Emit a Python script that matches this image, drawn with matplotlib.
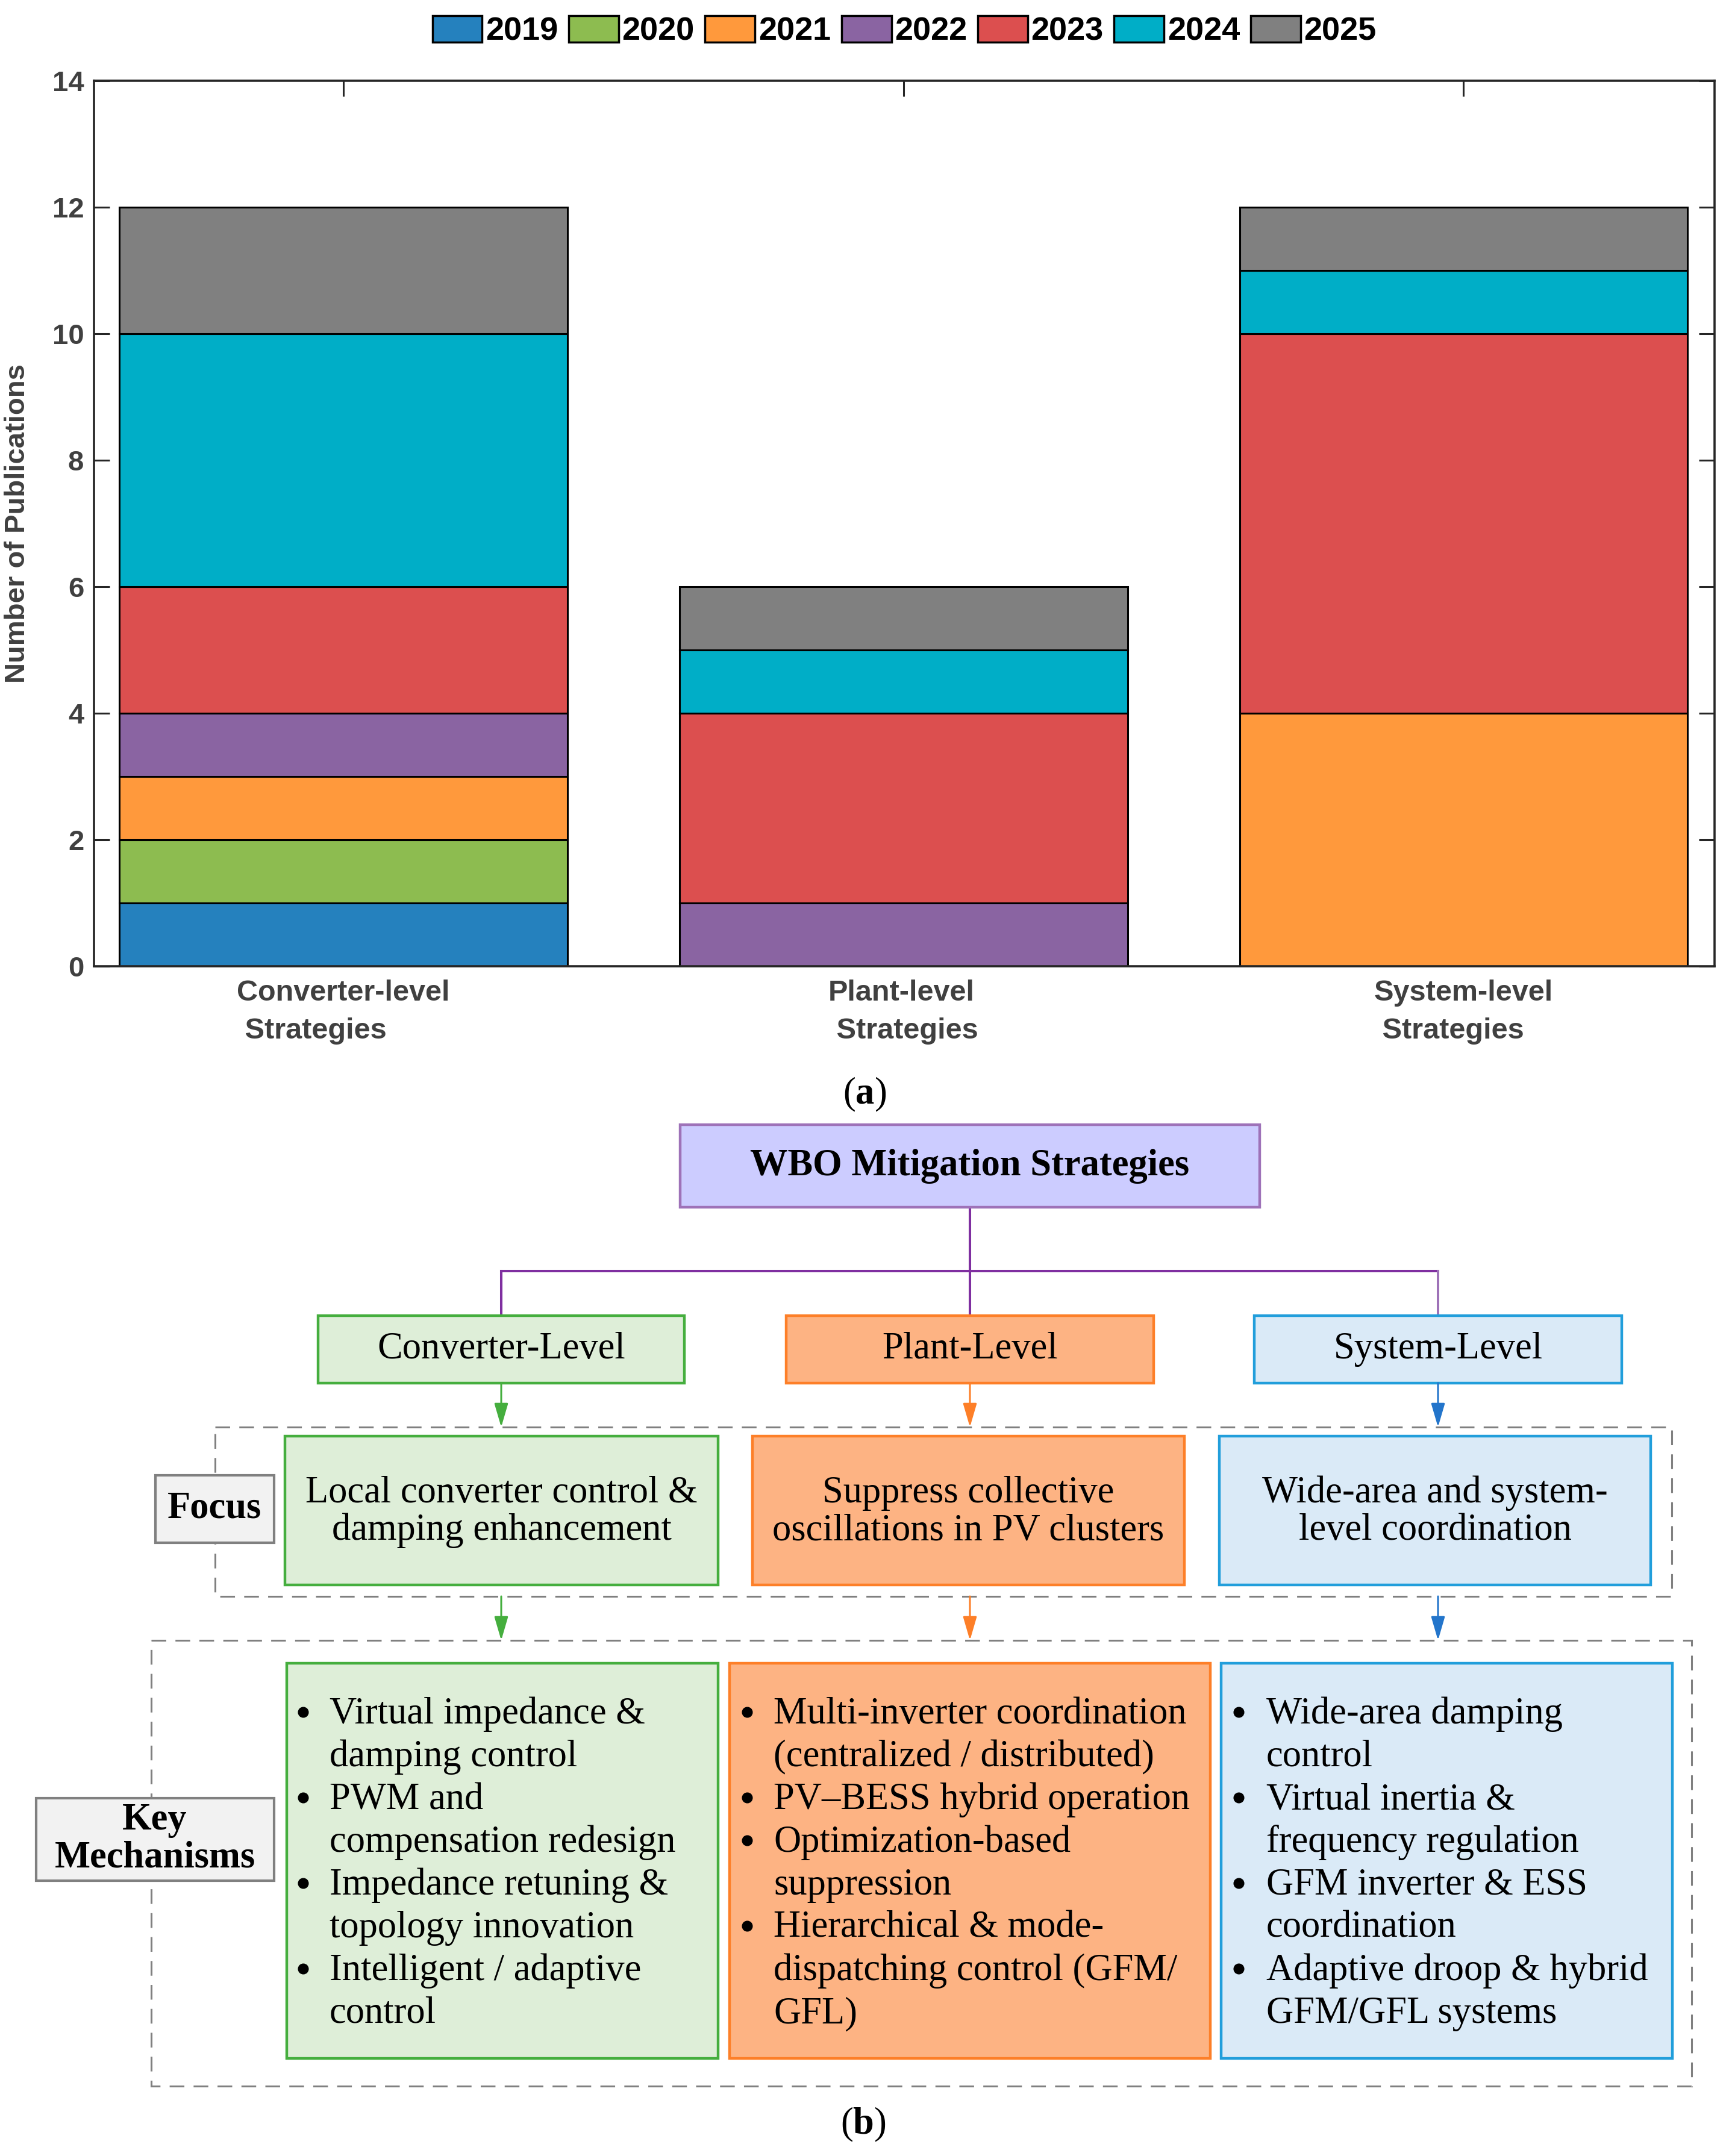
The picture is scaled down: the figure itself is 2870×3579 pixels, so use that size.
import matplotlib
matplotlib.use("Agg")
import matplotlib.pyplot as plt
from matplotlib.patches import Rectangle, Patch
import numpy as np

# ---- bar chart data (a) ----
categories = ["Converter-level\n Strategies", "Plant-level\n Strategies", "System-level\n Strategies"]
years = ["2019", "2020", "2021", "2022", "2023", "2024", "2025"]
year_colors = ["#2581BE", "#8DBC50", "#FF993C", "#8A64A2", "#DC4F4F", "#00AEC7", "#808080"]
# publications per year, one value per category
pubs_2019 = [1, 0, 0]
pubs_2020 = [1, 0, 0]
pubs_2021 = [1, 0, 4]
pubs_2022 = [1, 1, 0]
pubs_2023 = [2, 3, 6]
pubs_2024 = [4, 1, 1]
pubs_2025 = [2, 1, 1]
series = [pubs_2019, pubs_2020, pubs_2021, pubs_2022, pubs_2023, pubs_2024, pubs_2025]

# ---- diagram text (b) ----
root_text = "WBO Mitigation Strategies"
level_names = ["Converter-Level", "Plant-Level", "System-Level"]
focus_texts = ["Local converter control &\ndamping enhancement",
               "Suppress collective\noscillations in PV clusters",
               "Wide-area and system-\nlevel coordination"]
# (starts a new bullet?, line text)
mech_green = [(True, "Virtual impedance &"), (False, "damping control"),
              (True, "PWM and"), (False, "compensation redesign"),
              (True, "Impedance retuning &"), (False, "topology innovation"),
              (True, "Intelligent / adaptive"), (False, "control")]
mech_orange = [(True, "Multi-inverter coordination"), (False, "(centralized / distributed)"),
               (True, "PV\u2013BESS hybrid operation"),
               (True, "Optimization-based"), (False, "suppression"),
               (True, "Hierarchical & mode-"), (False, "dispatching control (GFM/"),
               (False, "GFL)")]
mech_blue = [(True, "Wide-area damping"), (False, "control"),
             (True, "Virtual inertia &"), (False, "frequency regulation"),
             (True, "GFM inverter & ESS"), (False, "coordination"),
             (True, "Adaptive droop & hybrid"), (False, "GFM/GFL systems")]
mechanisms = [mech_green, mech_orange, mech_blue]

fills = ["#DEEED8", "#FDB383", "#DAEAF7"]
edges = ["#45AE3E", "#FD7F28", "#219EDB"]
arrow_cols = ["#45AE3E", "#FD7F28", "#2375CB"]

plt.rcParams["mathtext.fontset"] = "custom"
plt.rcParams["mathtext.rm"] = "Liberation Serif"
plt.rcParams["mathtext.bf"] = "Liberation Serif:bold"

W, H = 2870, 3579
fig = plt.figure(figsize=(W / 100, H / 100), dpi=100)

# diagram axes in pixel coordinates
dax = fig.add_axes([0, 0, 1, 1])
dax.set_xlim(0, W)
dax.set_ylim(H, 0)
dax.axis("off")

SERIF = "Liberation Serif"
FS = 45


def box(x0, y0, x1, y1, fc, ec, lw=3.2, ls="-", z=2):
    r = Rectangle((x0, y0), x1 - x0, y1 - y0, facecolor=fc, edgecolor=ec,
                  linewidth=lw, linestyle=ls, zorder=z)
    dax.add_patch(r)


def arrow(x, y0, y1, col):
    dax.annotate("", xy=(x, y1), xytext=(x, y0),
                 arrowprops=dict(arrowstyle="-|>,head_length=1.2,head_width=0.35",
                                 mutation_scale=20, color=col, lw=2.2,
                                 shrinkA=0, shrinkB=0), zorder=4)


# root box and connectors
box(1129, 1867, 2091, 2004, "#CCCCFF", "#9E72B8")
dax.text(1610, 1936, root_text, fontsize=FS, fontweight="bold", family=SERIF,
         ha="center", va="center", zorder=5)
centers = [832, 1610, 2387]
purple = "#7F2FA0"
dax.plot([1610, 1610], [2004, 2184], color=purple, lw=2.9, zorder=1)
dax.plot([centers[0], centers[2]], [2110, 2110], color=purple, lw=2.9, zorder=1)
dax.plot([centers[0], centers[0]], [2110, 2184], color=purple, lw=2.9, zorder=1)
dax.plot([centers[2], centers[2]], [2110, 2184], color="#9E72B8", lw=2.9, zorder=1)

# level boxes
level_x = [(528, 1136), (1305, 1915), (2082, 2692)]
for (x0, x1), name, fc, ec in zip(level_x, level_names, fills, edges):
    box(x0, 2184, x1, 2296, fc, ec)
    dax.text((x0 + x1) / 2, 2240, name, fontsize=FS, family=SERIF,
             ha="center", va="center", zorder=5)

# arrows
for cx, col in zip(centers, arrow_cols):
    arrow(cx, 2296, 2369, col)
    arrow(cx, 2650, 2723, col)

# dashed group frames
box(357, 2369, 2775, 2650, "none", "#808080", lw=2.2, ls=(0, (8, 5)), z=1)
box(251, 2723, 2808, 3463, "none", "#808080", lw=2.2, ls=(0, (8, 5)), z=1)

# side labels
box(258, 2449, 455, 2561, "#F2F2F2", "#808080", lw=3.0, z=3)
dax.text(356, 2505, "Focus", fontsize=FS, fontweight="bold", family=SERIF,
         ha="center", va="center", zorder=5)
box(60, 2985, 455, 3122, "#F2F2F2", "#808080", lw=3.0, z=3)
dax.text(257, 3053, "Key\nMechanisms", fontsize=FS, fontweight="bold", family=SERIF,
         ha="center", va="center", linespacing=1.1, zorder=5)

# focus boxes
focus_x = [(473, 1192), (1249, 1966), (2024, 2740)]
for (x0, x1), txt, fc, ec in zip(focus_x, focus_texts, fills, edges):
    box(x0, 2384, x1, 2631, fc, ec)
    dax.text((x0 + x1) / 2, 2510, txt, fontsize=FS, family=SERIF,
             ha="center", va="center", linespacing=1.1, zorder=5)

# mechanism boxes
mech_x = [(476, 1192), (1211, 2009), (2027, 2776)]
bullet_x = [503, 1240, 2056]
text_x = [547, 1284, 2102]
for (x0, x1), lines, fc, ec, bx, tx in zip(mech_x, mechanisms, fills, edges, bullet_x, text_x):
    box(x0, 2761, x1, 3417, fc, ec)
    for i, (bullet, line) in enumerate(lines):
        y = 2861 + i * 71
        if bullet:
            dax.plot(bx, y - 19, "o", ms=12, color="black", zorder=5)
        dax.text(tx, y, line, fontsize=FS, family=SERIF, ha="left",
                 va="baseline", zorder=5)

# panel labels
dax.text(1435, 1817, r"($\mathbf{a}$)", fontsize=FS, family=SERIF,
         ha="center", va="center")
dax.text(1433, 3527, r"($\mathbf{b}$)", fontsize=FS, family=SERIF,
         ha="center", va="center")

# ---- stacked bar chart ----
ax = fig.add_axes([156 / W, 1 - 1604 / H, (2846 - 156) / W, (1604 - 134) / H])
x = np.arange(1, len(categories) + 1)
bottom = np.zeros(len(categories))
for vals, col in zip(series, year_colors):
    ax.bar(x, vals, bottom=bottom, width=0.8, color=col, edgecolor="black",
           linewidth=2.2, zorder=2)
    bottom += np.array(vals)

ax.set_xlim(0.555, 3.448)
ax.set_ylim(0, 14)
ax.set_yticks(np.arange(0, 15, 2))
ax.set_xticks(x)
ax.set_xticklabels(categories, multialignment="left", linespacing=1.5)
ax.tick_params(direction="in", top=True, right=True, length=19, width=2.2,
               colors="#262626", labelcolor="#404040")
ax.tick_params(axis="x", pad=16)
ax.tick_params(axis="y", pad=12)
for lab in ax.get_xticklabels():
    lab.set_fontsize(35)
    lab.set_fontweight("bold")
    lab.set_family("Liberation Sans")
for lab in ax.get_yticklabels():
    lab.set_fontsize(34)
    lab.set_fontweight("bold")
    lab.set_family("Liberation Sans")
for sp in ax.spines.values():
    sp.set_linewidth(2.6)
    sp.set_color("#262626")
ax.set_ylabel("Number of Publications", fontsize=34, fontweight="bold",
              family="Liberation Sans", color="#404040")
ax.yaxis.set_label_coords(-0.039, 0.5)

handles = [Patch(facecolor=c, edgecolor="black", linewidth=2.5) for c in year_colors]
fig.legend(handles, years, loc="center", bbox_to_anchor=(0.523, 1 - 52 / H),
           ncol=7, frameon=False, handlelength=1.53, handleheight=0.87,
           handletextpad=0.1, columnspacing=0.33,
           prop={"family": "Liberation Sans", "weight": "bold", "size": 39})

fig.savefig("out.png", dpi=100)
